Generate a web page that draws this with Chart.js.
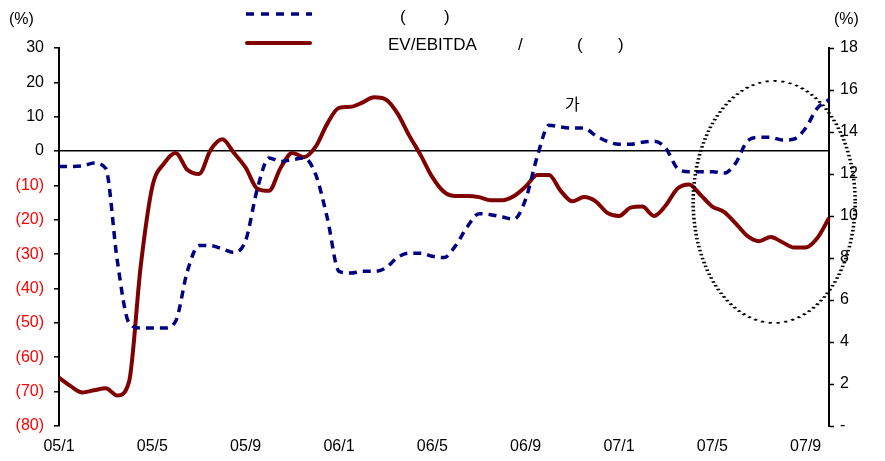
<!DOCTYPE html>
<html>
<head>
<meta charset="utf-8">
<script src="https://cdn.jsdelivr.net/npm/chart.js@4/dist/chart.umd.min.js"></script>
<style>
  body { margin: 0; background: #fff; }
  #wrap { width: 885px; height: 461px; position: relative; }
</style>
</head>
<body>
<div id="wrap"><canvas id="spread_chart"></canvas></div>
<script>
// half-month points, Jan 2005 .. Oct 2007
var labels = [
  '05/1','','05/2','','05/3','','05/4','','05/5','','05/6','','05/7','','05/8','','05/9','','05/10','','05/11','','05/12','',
  '06/1','','06/2','','06/3','','06/4','','06/5','','06/6','','06/7','','06/8','','06/9','','06/10','','06/11','','06/12','',
  '07/1','','07/2','','07/3','','07/4','','07/5','','07/6','','07/7','','07/8','','07/9','','07/10'
];

// blue dashed, left axis (%)
var blueData = [
  -4.5, -4.5, -4.3, -3.5, -5, -32, -50, -51.5, -51.5, -51.5, -49.5, -35,
  -27.5, -27.5, -28.5, -29.5, -26, -11, -2, -3, -2.5, -2, -6.8, -19.5,
  -35, -35.5, -35, -35, -34, -31, -29.7, -29.7, -30.6, -31, -27.5, -22,
  -18.2, -18.5, -19.2, -19.8, -14, -1.5, 7.5, 7, 6.7, 6.7, 4.5, 2.8,
  2, 2, 2.6, 2.9, 0.9, -5, -6, -6, -6, -6.4, -3.5, 2.9,
  4, 4, 3.2, 3.5, 6.7, 12.5, 15
];

// red solid, right axis (EV/EBITDA)
var redData = [
  2.3, 1.9, 1.6, 1.7, 1.8, 1.45, 2.1, 7.6, 11.4, 12.5, 13.0, 12.2,
  12.0, 13.15, 13.65, 13.0, 12.3, 11.3, 11.2, 12.3, 13.0, 12.8, 13.3, 14.4,
  15.15, 15.2, 15.4, 15.65, 15.55, 14.9, 13.85, 12.9, 11.85, 11.15, 10.95, 10.95,
  10.9, 10.75, 10.75, 10.95, 11.4, 11.95, 11.95, 11.2, 10.7, 10.9, 10.7, 10.15,
  10.0, 10.4, 10.45, 10.0, 10.5, 11.3, 11.5, 11.0, 10.45, 10.2, 9.65, 9.05,
  8.8, 9.0, 8.75, 8.5, 8.5, 8.95, 9.9
];

var noteText = '가';

var FONT = '"Liberation Sans", Arial, sans-serif';

// legend, unit labels, note and the dotted ellipse
var extras = {
  id: 'extras',
  afterDraw: function(chart) {
    var c = chart.ctx;
    var x = chart.scales.x, yl = chart.scales.y;
    c.save();
    c.fillStyle = '#000';
    c.textBaseline = 'middle';
    c.textAlign = 'left';
    c.font = '16px ' + FONT;
    c.fillText('(%)', 9, 20);
    c.fillText('(%)', 834, 20);

    c.strokeStyle = '#000080';
    c.lineWidth = 3.5;
    c.setLineDash([8, 7]);
    c.beginPath(); c.moveTo(246, 14); c.lineTo(312, 14); c.stroke();
    c.setLineDash([]);
    c.strokeStyle = '#800000';
    c.lineWidth = 4;
    c.lineCap = 'round';
    c.beginPath(); c.moveTo(247, 43); c.lineTo(310, 43); c.stroke();

    c.font = '17px ' + FONT;
    c.fillText('(', 400, 17);
    c.fillText(')', 444, 17);
    c.fillText('EV/EBITDA', 388, 45);
    c.fillText('/', 518, 45);
    c.fillText('(', 577, 45);
    c.fillText(')', 618, 45);

    c.font = '16px "Noto Sans CJK KR", sans-serif';
    c.fillText(noteText, 565, 104);

    // ellipse around latest period
    var cx = x.getPixelForValue(61.3);
    var cy = yl.getPixelForValue(-14.8);
    var rx = 81, ry = 121;
    c.translate(cx, cy);
    c.scale(2, 1);
    c.strokeStyle = '#000';
    c.lineWidth = 1.8;
    c.lineCap = 'butt';
    c.setLineDash([1.6, 2.4]);
    c.beginPath();
    c.ellipse(0, 0, rx / 2, ry, 0, 0, Math.PI * 2);
    c.stroke();
    c.restore();
  }
};

var ctx = document.getElementById('spread_chart').getContext('2d');

var spread_chart = new Chart(ctx, {
  type: 'line',
  data: {
    labels: labels,
    datasets: [{
      label: 'blue',
      data: blueData,
      yAxisID: 'y',
      borderColor: '#000080',
      borderWidth: 3.5,
      borderDash: [8, 6],
      pointRadius: 0,
      cubicInterpolationMode: 'monotone',
      order: 0
    }, {
      label: 'red',
      data: redData,
      yAxisID: 'y1',
      borderColor: '#800000',
      borderWidth: 4,
      pointRadius: 0,
      cubicInterpolationMode: 'monotone',
      order: 1
    }]
  },
  options: {
    responsive: true,
    maintainAspectRatio: false,
    animation: false,
    layout: { padding: { top: 48, left: 0, right: 0, bottom: 0 } },
    plugins: { legend: { display: false }, tooltip: { enabled: false } },
    font: { family: FONT },
    scales: {
      x: {
        offset: false,
        grid: { display: false, drawTicks: false },
        border: { display: false },
        afterFit: function(s) { s.height = 35; },
        ticks: {
          autoSkip: false,
          maxRotation: 0,
          padding: 11,
          color: '#000',
          font: { size: 16, family: FONT },
          callback: function(v, i) { return i % 8 === 0 ? labels[i] : ''; }
        }
      },
      y: {
        position: 'left',
        min: -80, max: 30,
        afterFit: function(s) { s.width = 59; },
        border: { display: true, color: '#000', width: 2 },
        grid: {
          drawOnChartArea: true,
          tickLength: 5,
          tickColor: '#000',
          tickWidth: 1.5,
          lineWidth: 1.6,
          color: function(c) { return c.tick && c.tick.value === 0 ? '#000' : 'rgba(0,0,0,0)'; }
        },
        ticks: {
          stepSize: 10,
          padding: 10,
          font: { size: 16, family: FONT },
          color: function(c) { return c.tick.value < 0 ? '#ff0000' : '#000'; },
          callback: function(v) { return v < 0 ? '(' + (-v) + ')' : v; }
        }
      },
      y1: {
        position: 'right',
        min: 0, max: 18,
        afterFit: function(s) { s.width = 56; },
        border: { display: true, color: '#000', width: 2 },
        grid: { drawOnChartArea: false, tickLength: 5, tickColor: '#000', tickWidth: 1.5 },
        ticks: {
          stepSize: 2,
          padding: 6,
          color: '#000',
          font: { size: 16, family: FONT },
          callback: function(v) { return v === 0 ? '-' : v; }
        }
      }
    }
  },
  plugins: [extras]
});
</script>
</body>
</html>
